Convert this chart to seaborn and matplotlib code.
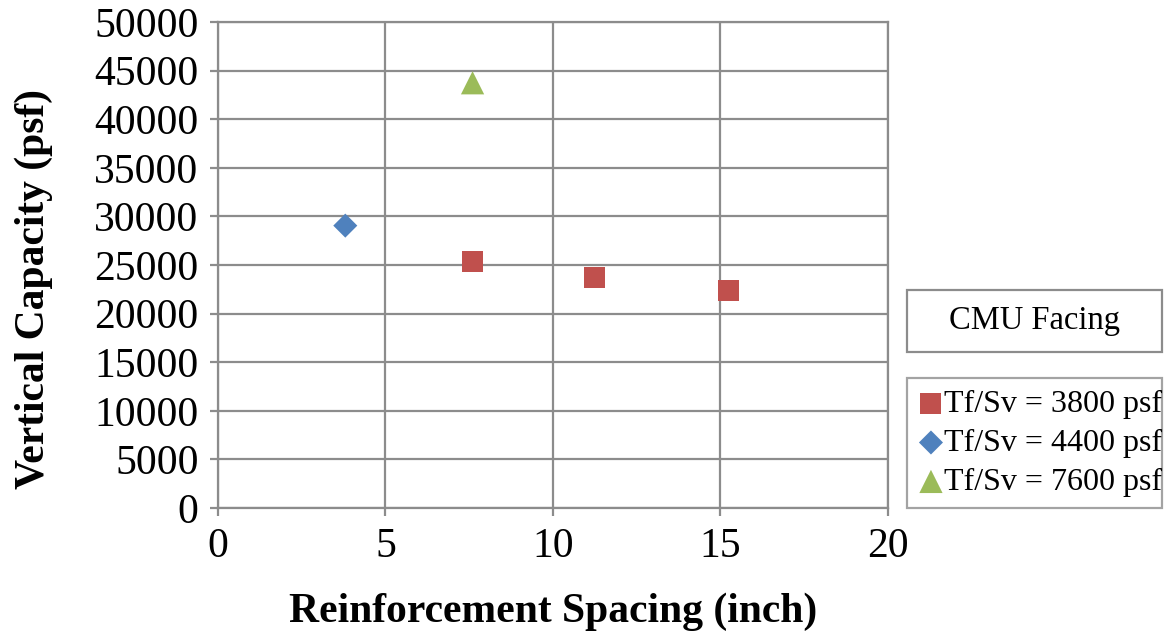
import matplotlib
matplotlib.use("Agg")
import matplotlib.pyplot as plt
import pandas as pd
import seaborn as sns
from matplotlib.patches import Rectangle

# data
spacing_3800 = [7.6, 11.25, 15.25]
capacity_3800 = [25400, 23750, 22350]
spacing_4400 = [3.8]
capacity_4400 = [29050]
spacing_7600 = [7.6]
capacity_7600 = [43750]

labels = ["Tf/Sv = 3800 psf", "Tf/Sv = 4400 psf", "Tf/Sv = 7600 psf"]
colors = ["#C0504D", "#4F81BD", "#9BBB59"]
markers = ["s", "D", "^"]
sizes = [230, 150, 280]

df = pd.concat([
    pd.DataFrame({"x": spacing_3800, "y": capacity_3800, "series": labels[0]}),
    pd.DataFrame({"x": spacing_4400, "y": capacity_4400, "series": labels[1]}),
    pd.DataFrame({"x": spacing_7600, "y": capacity_7600, "series": labels[2]}),
])

sns.set_style("white")
plt.rcParams["font.family"] = ["Liberation Serif", "DejaVu Serif"]
plt.rcParams["text.color"] = "black"
plt.rcParams["axes.labelcolor"] = "black"

fig = plt.figure(figsize=(11.69, 6.38), dpi=100)
ax = fig.add_axes([0.1865, 0.2038, 0.573, 0.7617])

for lab, c, m, s in zip(labels, colors, markers, sizes):
    sns.scatterplot(data=df[df["series"] == lab], x="x", y="y", color=c,
                    marker=m, s=s, edgecolor="none", ax=ax, label=lab,
                    zorder=3)

grey = "#8c8c8c"
ax.set_xlim(0, 20)
ax.set_ylim(0, 50000)
ax.set_xticks(range(0, 21, 5))
ax.set_yticks(range(0, 50001, 5000))
ax.grid(True, color=grey, linewidth=1.6)
for sp in ax.spines.values():
    sp.set_color(grey)
    sp.set_linewidth(1.6)
ax.tick_params(axis="both", which="both", length=6, width=1.6, color=grey,
               labelcolor="black", labelsize=30, pad=8, direction="out",
               bottom=True, left=True)

ax.set_xlabel("Reinforcement Spacing (inch)", fontsize=30, fontweight="bold", labelpad=19)
ax.set_ylabel("Vertical Capacity (psf)", fontsize=30, fontweight="bold")
ax.yaxis.set_label_coords(-0.247, 0.45)

leg = ax.legend(loc="lower left", bbox_to_anchor=(907 / 1169, 1 - 508 / 638, 255 / 1169, 140 / 638),
                bbox_transform=fig.transFigure, mode="expand", fontsize=23,
                frameon=True, fancybox=False, edgecolor=grey,
                handletextpad=0.0, borderpad=0.35, labelspacing=0.3,
                handlelength=0.8, borderaxespad=0)
leg.get_frame().set_linewidth(1.6)

# separate box holding the series title
fig.patches.append(Rectangle((907 / 1169, 1 - 352 / 638), 255 / 1169, 62 / 638,
                             transform=fig.transFigure, fc="white", ec=grey, lw=1.6))
fig.text((907 + 1162) / 2 / 1169, 1 - 321 / 638, "CMU Facing", fontsize=23.5,
         ha="center", va="center")

fig.savefig("out.png", dpi=100)
